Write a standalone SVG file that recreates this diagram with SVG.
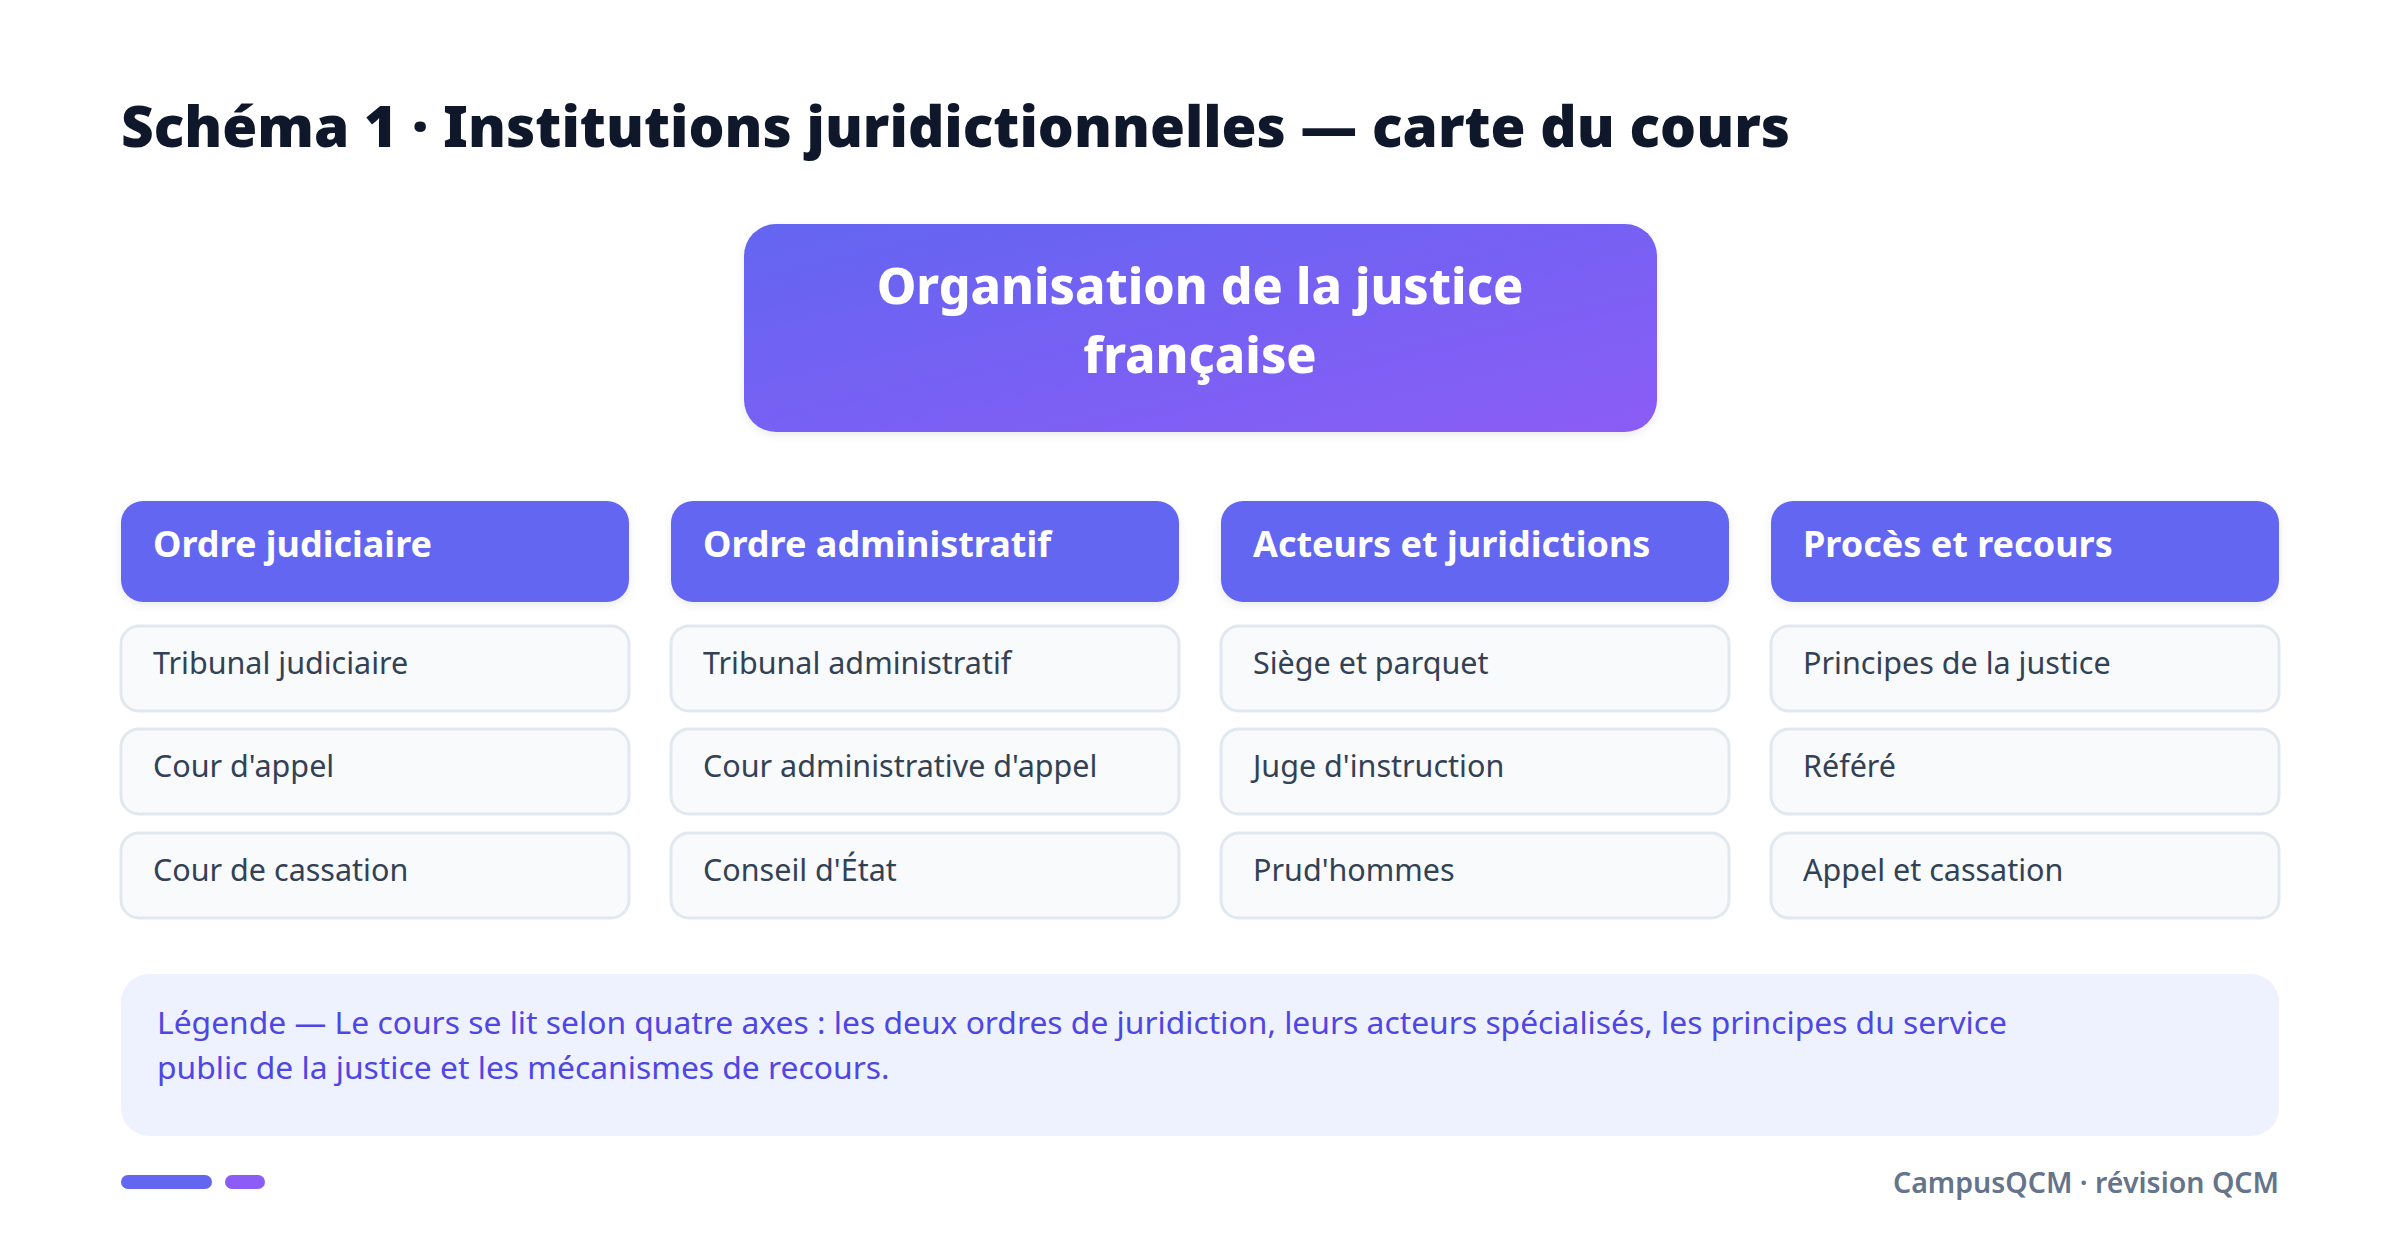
<svg xmlns="http://www.w3.org/2000/svg" width="2400" height="1243" viewBox="0 0 2400 1243">
<defs>
<linearGradient id="rootGrad" x1="0" y1="0" x2="1" y2="1">
<stop offset="0" stop-color="#6366f1"/>
<stop offset="1" stop-color="#8b5cf6"/>
</linearGradient>
<filter id="sh" x="-10%" y="-20%" width="120%" height="150%">
<feDropShadow dx="0" dy="3" stdDeviation="4" flood-color="#0f172a" flood-opacity="0.08"/>
</filter>
<style>
text{font-family:"Noto Sans","Open Sans","Liberation Sans",sans-serif}
.title{font-size:56.7px;font-weight:900;fill:#0f172a}
.root-t{font-size:50px;font-weight:800;fill:#ffffff}
.hdr{fill:#6366f1}
.hdr-t{font-size:36px;font-weight:700;fill:#ffffff}
.item{fill:#f8fafc;stroke:#e2e8f0;stroke-width:3}
.item-t{font-size:30.5px;fill:#334155}
.leg-t{font-size:31.8px;fill:#4f46e5}
.foot-t{font-size:28.5px;font-weight:600;fill:#64748b}
</style>
</defs>
<rect width="2400" height="1243" fill="#ffffff"/>
<text class="title" x="121" y="147">Schéma 1 · Institutions juridictionnelles — carte du cours</text>

<g id="root">
<rect x="744" y="224" width="913" height="208" rx="32" fill="url(#rootGrad)" filter="url(#sh)"/>
<text class="root-t" x="1200" y="304" text-anchor="middle">Organisation de la justice</text>
<text class="root-t" x="1200" y="373" text-anchor="middle">française</text>
</g>

<g id="connectors"></g>

<g id="col1">
<g id="h1"><rect class="hdr" x="121" y="501" width="508" height="101" rx="22" filter="url(#sh)"/><text class="hdr-t" x="153" y="557">Ordre judiciaire</text></g>
<g id="n1a"><rect class="item" x="121" y="626" width="508" height="85" rx="18"/><text class="item-t" x="153" y="674">Tribunal judiciaire</text></g>
<g id="n1b"><rect class="item" x="121" y="729" width="508" height="85" rx="18"/><text class="item-t" x="153" y="777">Cour d'appel</text></g>
<g id="n1c"><rect class="item" x="121" y="833" width="508" height="85" rx="18"/><text class="item-t" x="153" y="881">Cour de cassation</text></g>
</g>

<g id="col2">
<g id="h2"><rect class="hdr" x="671" y="501" width="508" height="101" rx="22" filter="url(#sh)"/><text class="hdr-t" x="703" y="557">Ordre administratif</text></g>
<g id="n2a"><rect class="item" x="671" y="626" width="508" height="85" rx="18"/><text class="item-t" x="703" y="674">Tribunal administratif</text></g>
<g id="n2b"><rect class="item" x="671" y="729" width="508" height="85" rx="18"/><text class="item-t" x="703" y="777">Cour administrative d'appel</text></g>
<g id="n2c"><rect class="item" x="671" y="833" width="508" height="85" rx="18"/><text class="item-t" x="703" y="881">Conseil d'État</text></g>
</g>

<g id="col3">
<g id="h3"><rect class="hdr" x="1221" y="501" width="508" height="101" rx="22" filter="url(#sh)"/><text class="hdr-t" x="1253" y="557">Acteurs et juridictions</text></g>
<g id="n3a"><rect class="item" x="1221" y="626" width="508" height="85" rx="18"/><text class="item-t" x="1253" y="674">Siège et parquet</text></g>
<g id="n3b"><rect class="item" x="1221" y="729" width="508" height="85" rx="18"/><text class="item-t" x="1253" y="777">Juge d'instruction</text></g>
<g id="n3c"><rect class="item" x="1221" y="833" width="508" height="85" rx="18"/><text class="item-t" x="1253" y="881">Prud'hommes</text></g>
</g>

<g id="col4">
<g id="h4"><rect class="hdr" x="1771" y="501" width="508" height="101" rx="22" filter="url(#sh)"/><text class="hdr-t" x="1803" y="557">Procès et recours</text></g>
<g id="n4a"><rect class="item" x="1771" y="626" width="508" height="85" rx="18"/><text class="item-t" x="1803" y="674">Principes de la justice</text></g>
<g id="n4b"><rect class="item" x="1771" y="729" width="508" height="85" rx="18"/><text class="item-t" x="1803" y="777">Référé</text></g>
<g id="n4c"><rect class="item" x="1771" y="833" width="508" height="85" rx="18"/><text class="item-t" x="1803" y="881">Appel et cassation</text></g>
</g>

<g id="legend">
<rect x="121" y="974" width="2158" height="162" rx="28" fill="#eef2ff"/>
<text class="leg-t" x="157" y="1034">Légende — Le cours se lit selon quatre axes : les deux ordres de juridiction, leurs acteurs spécialisés, les principes du service</text>
<text class="leg-t" x="157" y="1079">public de la justice et les mécanismes de recours.</text>
</g>

<g id="footer">
<rect x="121" y="1175" width="91" height="14" rx="7" fill="#6366f1"/>
<rect x="225" y="1175" width="40" height="14" rx="7" fill="#8b5cf6"/>
<text class="foot-t" x="2279" y="1193" text-anchor="end">CampusQCM · révision QCM</text>
</g>
</svg>
